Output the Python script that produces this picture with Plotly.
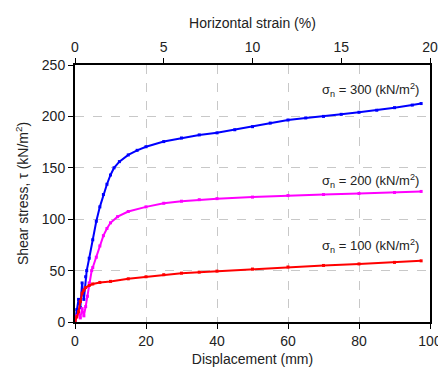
import plotly.graph_objects as go

# Data
disp_300 = [0, 0.5, 1, 1.5, 2, 2.5, 3, 3.3, 4, 5, 6, 7, 8, 9, 10, 11, 12.5, 15, 17.5, 20, 25, 30, 35, 40, 45, 50, 55, 60, 65, 70, 75, 80, 85, 90, 95, 97.5]
tau_300 = [0, 12, 22, 14, 38, 22, 44, 50, 62, 80, 98, 112, 124, 134, 143, 150, 156, 162.5, 167, 170.5, 175.5, 179, 182, 184, 187, 190, 193.5, 196.5, 198.5, 200, 202, 204, 206, 208.5, 211, 212.5]

disp_200 = [0, 0.5, 1, 1.5, 2, 2.5, 3, 3.5, 4, 4.7, 5, 6, 7, 8, 9, 10, 12, 15, 20, 25, 30, 35, 40, 50, 60, 70, 80, 90, 97.5]
tau_200 = [0, 6, 9, 4, 13, 6, 15, 25, 38, 50, 53, 63, 74, 84, 91, 96.5, 102.5, 107.5, 112, 115.5, 117.5, 119, 120, 121.5, 123, 124, 125, 126, 127]

disp_100 = [0, 0.5, 1, 1.5, 2, 2.5, 3, 4, 5, 7, 10, 15, 20, 25, 30, 35, 40, 50, 60, 70, 80, 90, 97.5]
tau_100 = [0, 5, 10, 20, 28, 31, 33.5, 35.5, 37, 38.5, 39.5, 42, 44, 46, 47.5, 48.5, 49.5, 51.5, 53.5, 55, 56.5, 58, 59.5]

strain_ticks = [0, 5, 10, 15, 20]
disp_ticks = [0, 20, 40, 60, 80, 100]
tau_ticks = [0, 50, 100, 150, 200, 250]

labels = ["σ<sub>n</sub> = 300 (kN/m<sup>2</sup>)",
          "σ<sub>n</sub> = 200 (kN/m<sup>2</sup>)",
          "σ<sub>n</sub> = 100 (kN/m<sup>2</sup>)"]
label_y = [226, 137, 74]
colors = ["#0000FF", "#FF00FF", "#FF0000"]

fig = go.Figure()
for xs, ys, c in [(disp_300, tau_300, colors[0]), (disp_200, tau_200, colors[1]), (disp_100, tau_100, colors[2])]:
    fig.add_trace(go.Scatter(x=xs, y=ys, mode="lines+markers", line=dict(color=c, width=2),
                             marker=dict(color=c, size=3, symbol="square"), showlegend=False))

# invisible trace to show the top (strain) axis
fig.add_trace(go.Scatter(x=[strain_ticks[0], strain_ticks[-1]], y=[0, 0], xaxis="x2", mode="lines",
                         opacity=0, showlegend=False, hoverinfo="skip"))

fam = "Liberation Sans, Arial, sans-serif"
font = dict(family=fam, size=14, color="#222222")

for t, y, c in zip(labels, label_y, colors):
    fig.add_annotation(x=97.5, y=y, xref="x", yref="y", text=t, showarrow=False,
                       xanchor="right", yanchor="middle", font=dict(family=fam, size=13, color="#222222"))

grid = dict(showgrid=True, gridcolor="#c8c8c8", griddash="dash", gridwidth=1)
fig.update_layout(
    width=438, height=369,
    margin=dict(l=75, r=8, t=65, b=47),
    paper_bgcolor="white", plot_bgcolor="white",
    font=font,
    xaxis=dict(range=[0, 100], tickvals=disp_ticks, ticks="outside", ticklen=5, tickcolor="black",
               showline=True, linecolor="black", linewidth=2, zeroline=False, automargin=False,
               tickfont=dict(size=14), ticklabeloverflow="allow",
               title=dict(text="Displacement (mm)", standoff=6, font=dict(size=14)), **grid),
    xaxis2=dict(range=[0, 20], tickvals=strain_ticks, overlaying="x", side="top", anchor="y",
                ticks="outside", ticklen=5, tickcolor="black", showline=True, linecolor="black", linewidth=2,
                showgrid=False, zeroline=False, automargin=False, tickfont=dict(size=14),
                ticklabeloverflow="allow",
                title=dict(text="Horizontal strain (%)", standoff=8, font=dict(size=14))),
    yaxis=dict(range=[0, 250], tickvals=tau_ticks, ticks="outside", ticklen=5, tickcolor="black",
               showline=True, linecolor="black", linewidth=2, mirror=True, zeroline=False, automargin=False,
               tickfont=dict(size=14), ticklabeloverflow="allow",
               title=dict(text="Shear stress, τ (kN/m<sup>2</sup>)", standoff=10, font=dict(size=14)), **grid),
)

fig.write_html("out.html")
